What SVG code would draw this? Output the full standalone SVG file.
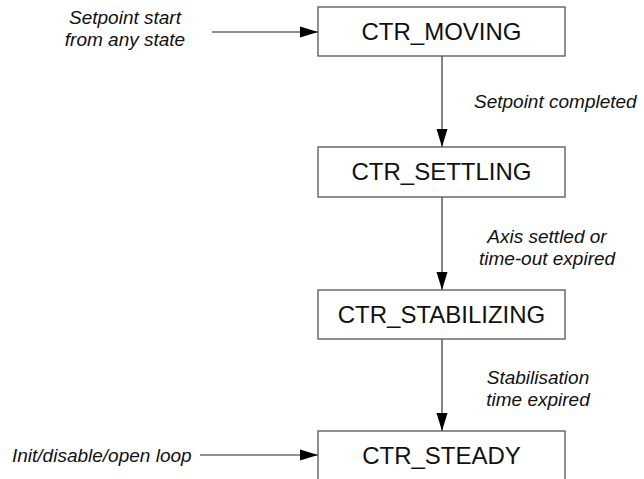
<svg xmlns="http://www.w3.org/2000/svg" width="644" height="479" viewBox="0 0 644 479">
<style>
.box{fill:#fff;stroke:#555;stroke-width:1.3}
.st{font-family:"Liberation Sans",Arial,sans-serif;font-size:24px;fill:#111;text-anchor:middle}
.lb{font-family:"Liberation Sans",Arial,sans-serif;font-size:19px;font-style:italic;fill:#111}
.m{text-anchor:middle}
.c{stroke:#222;stroke-width:1.1;fill:none}
</style>
<defs>
<marker id="ah" markerWidth="18" markerHeight="12" refX="18" refY="6" orient="auto" markerUnits="userSpaceOnUse">
<path d="M0,0.5 L18,6 L0,11.5 Z" fill="#000"/>
</marker>
</defs>
<rect width="644" height="479" fill="#fff"/>
<g id="connectors">
<line class="c" x1="212" y1="32" x2="318" y2="32" marker-end="url(#ah)"/>
<line class="c" x1="442" y1="56" x2="442" y2="147" marker-end="url(#ah)"/>
<line class="c" x1="442" y1="197" x2="442" y2="290" marker-end="url(#ah)"/>
<line class="c" x1="442" y1="339" x2="442" y2="431" marker-end="url(#ah)"/>
<line class="c" x1="200" y1="455" x2="318" y2="455" marker-end="url(#ah)"/>
<text class="lb m" x="125" y="24">Setpoint start</text>
<text class="lb m" x="125" y="46">from any state</text>
<text class="lb" x="474" y="108">Setpoint completed</text>
<text class="lb m" x="547" y="243">Axis settled or</text>
<text class="lb m" x="547" y="265">time-out expired</text>
<text class="lb m" x="538" y="384">Stabilisation</text>
<text class="lb m" x="538" y="406">time expired</text>
<text class="lb" x="12" y="462">Init/disable/open loop</text>
</g>
<g id="moving"><rect class="box" x="318" y="7" width="247" height="49"/><text class="st" x="441.5" y="40">CTR_MOVING</text></g>
<g id="settling"><rect class="box" x="318" y="147" width="247" height="50"/><text class="st" x="441.5" y="180">CTR_SETTLING</text></g>
<g id="stabilizing"><rect class="box" x="318" y="290" width="247" height="49"/><text class="st" x="441.5" y="323">CTR_STABILIZING</text></g>
<g id="steady"><rect class="box" x="318" y="431" width="247" height="60"/><text class="st" x="441.5" y="464">CTR_STEADY</text></g>
</svg>
